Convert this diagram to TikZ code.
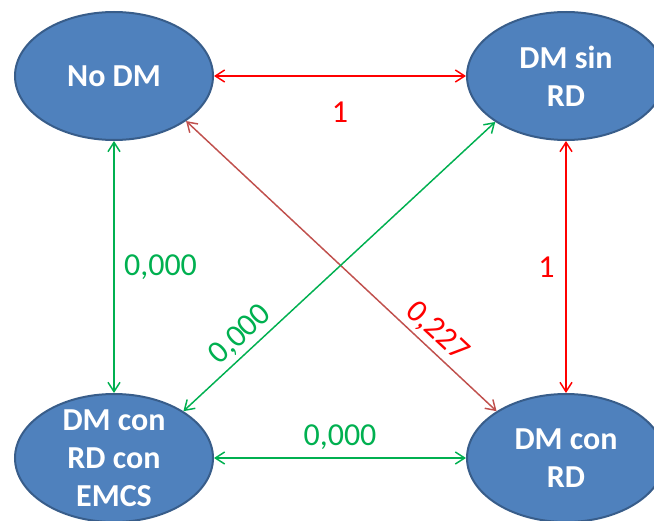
\documentclass[tikz,border=0pt]{standalone}
\usepackage{fontspec}
\setmainfont{Carlito}
\usetikzlibrary{arrows.meta,shapes.geometric}
\definecolor{dmBlue}{HTML}{4F81BD}
\definecolor{dmBlueDark}{HTML}{385D8A}
\definecolor{dmRed}{HTML}{FF0000}
\definecolor{dmRedDark}{HTML}{C0504D}
\definecolor{dmGreen}{HTML}{00B050}
\tikzset{
  dm state/.style={ellipse, draw=dmBlueDark, line width=1.5pt, fill=dmBlue,
    text=white, font=\fontsize{24}{28.5}\selectfont\bfseries, align=center,
    minimum width=148.5pt, minimum height=96pt, inner sep=-10pt},
  link/.style={{Straight Barb[length=7pt,width=9pt]}-{Straight Barb[length=7pt,width=9pt]},
    line width=1.1pt},
  prob/.style={font=\fontsize{24}{28}\selectfont, inner sep=2pt}
}

\begin{document}
\begin{tikzpicture}[x=0.75pt, y=-0.75pt]
  \useasboundingbox (0,0) rectangle (654,521);
  \clip (0,0) rectangle (654,521);
  \node[dm state] (nodm) at (114,76) {No DM};
  \node[dm state] (sinrd) at (566,76) {DM sin\\RD};
  \node[dm state] (emcs) at (114,458) {DM con\\RD con\\EMCS};
  \node[dm state] (conrd) at (566,458) {DM con\\RD};
  % red transitions
  \draw[link, draw=dmRed] (nodm.east) -- node[prob, text=dmRed, midway, below=17pt] {1} (sinrd.west);
  \draw[link, draw=dmRed] (sinrd.south) -- node[prob, text=dmRed, midway, left=6pt] {1} (conrd.north);
  \draw[link, draw=dmRedDark] (nodm.-32) -- node[prob, text=dmRed, pos=0.77, sloped, above=1pt] {0,227} (conrd.146);
  % green transitions
  \draw[link, draw=dmGreen] (nodm.south) -- node[prob, text=dmGreen, midway, right=5pt] {0,000} (emcs.north);
  \draw[link, draw=dmGreen] (emcs.east) -- node[prob, text=dmGreen, midway, above=4pt] {0,000} (conrd.west);
  \draw[link, draw=dmGreen] (emcs.34) -- node[prob, text=dmGreen, pos=0.22, sloped, above=1pt] {0,000} (sinrd.213);
\end{tikzpicture}
\end{document}
